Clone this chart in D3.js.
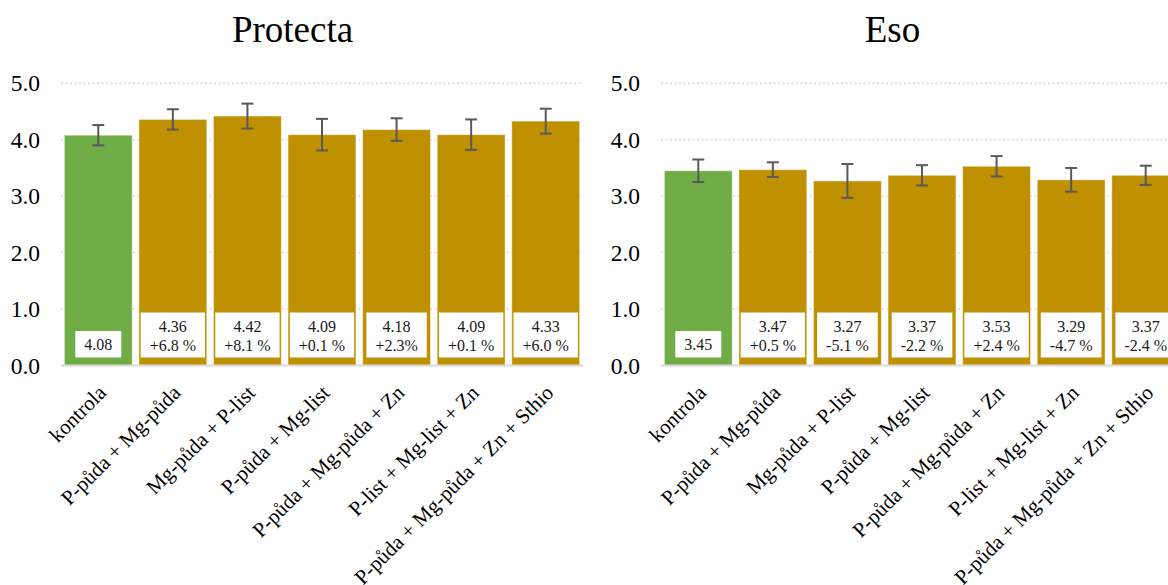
<!DOCTYPE html>
<html>
<head>
<meta charset="utf-8">
<script src="https://cdn.jsdelivr.net/npm/d3@7"></script>
<style>
  html, body { margin: 0; padding: 0; background: #fff; }
  svg { display: block; font-family: "Liberation Serif", "Times New Roman", serif; }
</style>
</head>
<body>
<svg id="chart" width="1168" height="585"></svg>
<script>
const categories = [
  "kontrola",
  "P-půda + Mg-půda",
  "Mg-půda + P-list",
  "P-půda + Mg-list",
  "P-půda + Mg-půda + Zn",
  "P-list + Mg-list + Zn",
  "P-půda + Mg-půda + Zn + Sthio"
];
const panelTitles = ["Protecta", "Eso"];
const protectaValues = [4.08, 4.36, 4.42, 4.09, 4.18, 4.09, 4.33];
const protectaErrors = [0.18, 0.18, 0.22, 0.28, 0.20, 0.27, 0.22];
const protectaChange = ["", "+6.8 %", "+8.1 %", "+0.1 %", "+2.3%", "+0.1 %", "+6.0 %"];
const esoValues = [3.45, 3.47, 3.27, 3.37, 3.53, 3.29, 3.37];
const esoErrors = [0.20, 0.13, 0.30, 0.18, 0.18, 0.21, 0.17];
const esoChange = ["", "+0.5 %", "-5.1 %", "-2.2 %", "+2.4 %", "-4.7 %", "-2.4 %"];
const yTicks = [0, 1, 2, 3, 4, 5];
const yTickLabels = ["0.0", "1.0", "2.0", "3.0", "4.0", "5.0"];

const panels = [
  { title: panelTitles[0], values: protectaValues, errors: protectaErrors, change: protectaChange, offset: 0 },
  { title: panelTitles[1], values: esoValues, errors: esoErrors, change: esoChange, offset: 600 }
];

const svg = d3.select("#chart");
const COLOR_CONTROL = "#70AD47";
const COLOR_TREAT = "#BF9000";

panels.forEach(p => {
  const g = svg.append("g").attr("transform", `translate(${p.offset},0)`);
  const x = d3.scaleBand().domain(categories).range([61, 583]).paddingInner(0.09).paddingOuter(0.045);
  const y = d3.scaleLinear().domain([0, 5]).range([365.5, 83.3]);

  // title
  g.append("text").attr("x", 292.5).attr("y", 42).attr("text-anchor", "middle")
    .attr("font-size", 37).attr("fill", "#000").text(p.title);

  // gridlines
  g.selectAll(".grid").data(yTicks.filter(t => t > 0)).enter().append("line")
    .attr("x1", 61).attr("x2", 583)
    .attr("y1", d => y(d)).attr("y2", d => y(d))
    .attr("stroke", "#d9d9d9").attr("stroke-width", 1.5).attr("stroke-dasharray", "2,2.5");

  // y tick labels
  g.selectAll(".ytick").data(yTicks).enter().append("text")
    .attr("x", 40).attr("y", d => y(d)).attr("text-anchor", "end")
    .attr("dominant-baseline", "central").attr("font-size", 23.5).attr("fill", "#000")
    .text((d, i) => yTickLabels[i]);

  // bars
  g.selectAll(".bar").data(p.values).enter().append("rect")
    .attr("x", (d, i) => x(categories[i]))
    .attr("width", x.bandwidth())
    .attr("y", d => y(d))
    .attr("height", d => y(0) - y(d))
    .attr("fill", (d, i) => i === 0 ? COLOR_CONTROL : COLOR_TREAT)
    .attr("stroke", "#fff").attr("stroke-opacity", 0.45).attr("stroke-width", 1);

  // axis baseline
  g.append("line").attr("x1", 61).attr("x2", 583).attr("y1", y(0)).attr("y2", y(0))
    .attr("stroke", "#d9d9d9").attr("stroke-width", 2);

  // error bars
  const eg = g.selectAll(".err").data(p.values).enter().append("g")
    .attr("stroke", "#595959").attr("stroke-width", 2);
  eg.append("line")
    .attr("x1", (d, i) => x(categories[i]) + x.bandwidth() / 2)
    .attr("x2", (d, i) => x(categories[i]) + x.bandwidth() / 2)
    .attr("y1", (d, i) => y(d + p.errors[i]))
    .attr("y2", (d, i) => y(d - p.errors[i]));
  [1, -1].forEach(s => {
    eg.append("line")
      .attr("x1", (d, i) => x(categories[i]) + x.bandwidth() / 2 - 6)
      .attr("x2", (d, i) => x(categories[i]) + x.bandwidth() / 2 + 6)
      .attr("y1", (d, i) => y(d + s * p.errors[i]))
      .attr("y2", (d, i) => y(d + s * p.errors[i]));
  });

  // value labels in white boxes
  p.values.forEach((v, i) => {
    const cx = x(categories[i]) + x.bandwidth() / 2;
    const bottom = y(0) - 8;
    const lines = p.change[i] ? [v.toFixed(2), p.change[i]] : [v.toFixed(2)];
    const lg = g.append("g");
    const rect = lg.append("rect").attr("fill", "#fff");
    let maxW = 0;
    const centers = lines.length === 2 ? [bottom - 31, bottom - 11.7] : [bottom - 13.2];
    lines.forEach((t, j) => {
      const tx = lg.append("text").attr("x", cx).attr("y", centers[j])
        .attr("text-anchor", "middle").attr("dominant-baseline", "central")
        .attr("font-size", 16).attr("fill", "#1a1a1a").text(t);
      maxW = Math.max(maxW, tx.node().getComputedTextLength());
    });
    const h = lines.length === 2 ? 45 : 26.5;
    const w = maxW + 18;
    rect.attr("x", cx - w / 2).attr("y", bottom - h).attr("width", w).attr("height", h);
  });

  // x category labels
  g.selectAll(".xlab").data(categories).enter().append("text")
    .attr("transform", d => `translate(${x(d) + x.bandwidth() / 2 + 9},394) rotate(-45)`)
    .attr("text-anchor", "end").attr("font-size", 21).attr("fill", "#000")
    .text(d => d);
});
</script>
</body>
</html>
